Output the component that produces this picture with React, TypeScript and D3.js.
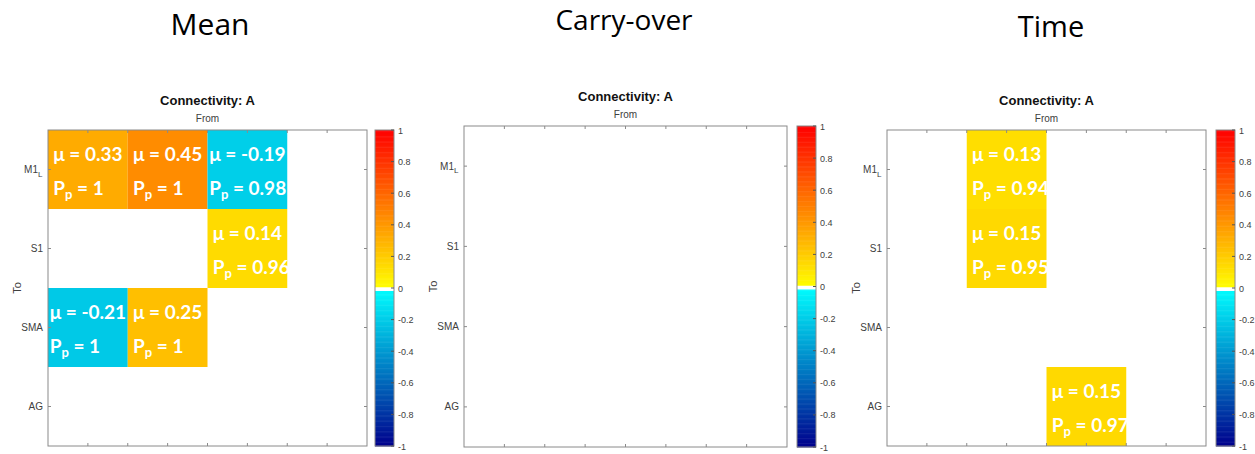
import React, { useEffect, useRef } from "react";
import * as d3 from "d3";

const regions = ["M1", "S1", "SMA", "AG"];
const regionSubs = ["L", "", "", ""];
const panelTitles = ["Mean", "Carry-over", "Time"];
const axisTitle = "Connectivity: A";
const colorbarTicks = [1, 0.8, 0.6, 0.4, 0.2, 0, -0.2, -0.4, -0.6, -0.8, -1];

// cells: [toRow, fromCol, mu, Pp]
const meanCells: [number, number, number, number][] = [
  [0, 0, 0.33, 1],
  [0, 1, 0.45, 1],
  [0, 2, -0.19, 0.98],
  [1, 2, 0.14, 0.96],
  [2, 0, -0.21, 1],
  [2, 1, 0.25, 1],
];
const carryCells: [number, number, number, number][] = [];
const timeCells: [number, number, number, number][] = [
  [0, 1, 0.13, 0.94],
  [1, 1, 0.15, 0.95],
  [3, 2, 0.15, 0.97],
];

const panelCells = [meanCells, carryCells, timeCells];

const layout = [
  { tx: 210, ty: 35, fs: 30, left: 48, top: 130, w: 319, h: 316, cbx: 375 },
  { tx: 624, ty: 30, fs: 28, left: 464, top: 126, w: 323, h: 321, cbx: 797 },
  { tx: 1051, ty: 37, fs: 29, left: 887, top: 130, w: 319, h: 316, cbx: 1216 },
];

function cmap(v: number): string {
  if (v >= -0.017 && v <= 0.008) return "#ffffff";
  if (v > 0) {
    const t = Math.min(1, v);
    return d3.rgb(255, 255 * (1 - t), 0).formatHex();
  }
  const t = Math.min(1, -v);
  return d3.rgb(0, 255 * (1 - t), 255 - 115 * t).formatHex();
}

export default function App() {
  const ref = useRef<SVGSVGElement | null>(null);
  useEffect(() => {
    const svg = d3.select(ref.current);
    svg.selectAll("*").remove();
    const axisColor = "#404040";
    const sans = "'Liberation Sans', Arial, sans-serif";
    const cellFont = "Lato, 'Open Sans', sans-serif";

    layout.forEach((L, pi) => {
      const g = svg.append("g");
      // big title
      g.append("text")
        .attr("x", L.tx)
        .attr("y", L.ty)
        .attr("text-anchor", "middle")
        .attr("font-family", "'Open Sans', sans-serif")
        .attr("font-size", L.fs)
        .attr("fill", "#000")
        .text(panelTitles[pi]);

      const x = d3.scaleLinear().domain([0, 4]).range([L.left, L.left + L.w]);
      const y = d3.scaleLinear().domain([0, 4]).range([L.top, L.top + L.h]);
      const cx = (L.left + L.left + L.w) / 2;

      g.append("text")
        .attr("x", cx)
        .attr("y", L.top - 25)
        .attr("text-anchor", "middle")
        .attr("font-family", sans)
        .attr("font-weight", "bold")
        .attr("font-size", 13)
        .attr("fill", "#111")
        .text(axisTitle);
      g.append("text")
        .attr("x", cx)
        .attr("y", L.top - 8)
        .attr("text-anchor", "middle")
        .attr("font-family", sans)
        .attr("font-size", 10)
        .attr("fill", axisColor)
        .text("From");
      g.append("text")
        .attr("transform", `translate(${L.left - 27},${L.top + L.h / 2}) rotate(-90)`)
        .attr("text-anchor", "middle")
        .attr("font-family", sans)
        .attr("font-size", 11)
        .attr("fill", axisColor)
        .text("To");

      // cells
      const cells = panelCells[pi];
      g.selectAll("rect.cell")
        .data(cells)
        .enter()
        .append("rect")
        .attr("x", (d) => x(d[1]))
        .attr("y", (d) => y(d[0]))
        .attr("width", (d) => x(d[1] + 1) - x(d[1]))
        .attr("height", (d) => y(d[0] + 1) - y(d[0]))
        .attr("fill", (d) => cmap(d[2]));

      cells.forEach((d) => {
        const cxc = (x(d[1]) + x(d[1] + 1)) / 2;
        const top = y(d[0]);
        const mu = g
          .append("text")
          .attr("x", cxc)
          .attr("y", top + 31)
          .attr("text-anchor", "middle")
          .attr("font-family", cellFont)
          .attr("font-weight", "bold")
          .attr("font-size", 19)
          .attr("fill", "#fff")
          .text(`μ = ${d[2]}`);
        const wNode = mu.node() as SVGTextElement;
        const wid = wNode ? wNode.getComputedTextLength() : 66;
        const lx = cxc - wid / 2;
        const pp = g
          .append("text")
          .attr("x", lx)
          .attr("y", top + 65)
          .attr("font-family", cellFont)
          .attr("font-weight", "bold")
          .attr("font-size", 19)
          .attr("fill", "#fff");
        pp.append("tspan").text("P");
        pp.append("tspan").attr("font-size", 13).attr("dy", 4).text("p");
        pp.append("tspan").attr("dy", -4).text(` = ${d[3]}`);
      });

      // axes box
      g.append("rect")
        .attr("x", L.left)
        .attr("y", L.top)
        .attr("width", L.w)
        .attr("height", L.h)
        .attr("fill", "none")
        .attr("stroke", "#8a8a8a")
        .attr("stroke-width", 1);

      // x ticks at half steps
      const xt = d3.range(1, 8).map((i) => i * 0.5);
      xt.forEach((t) => {
        g.append("line")
          .attr("x1", x(t)).attr("x2", x(t))
          .attr("y1", L.top).attr("y2", L.top + 3)
          .attr("stroke", "#8a8a8a");
        g.append("line")
          .attr("x1", x(t)).attr("x2", x(t))
          .attr("y1", L.top + L.h).attr("y2", L.top + L.h - 3)
          .attr("stroke", "#8a8a8a");
      });
      regions.forEach((r, i) => {
        const yy = y(i + 0.5);
        g.append("line")
          .attr("x1", L.left).attr("x2", L.left + 3)
          .attr("y1", yy).attr("y2", yy)
          .attr("stroke", "#8a8a8a");
        g.append("line")
          .attr("x1", L.left + L.w).attr("x2", L.left + L.w - 3)
          .attr("y1", yy).attr("y2", yy)
          .attr("stroke", "#8a8a8a");
        g.append("text")
          .attr("x", L.left - 5 - (regionSubs[i] ? 5 : 0))
          .attr("y", yy + 3.5)
          .attr("text-anchor", "end")
          .attr("font-family", sans)
          .attr("font-size", 10)
          .attr("fill", axisColor)
          .text(r);
        if (regionSubs[i]) {
          g.append("text")
            .attr("x", L.left - 10)
            .attr("y", yy + 7)
            .attr("font-family", sans)
            .attr("font-size", 8)
            .attr("fill", axisColor)
            .text(regionSubs[i]);
        }
      });

      // colorbar
      const cbw = 19;
      const cy = d3.scaleLinear().domain([-1, 1]).range([L.top + L.h, L.top]);
      const n = 256;
      const levels = d3.range(n).map((i) => -1 + (2 * (i + 0.5)) / n);
      g.selectAll("rect.cb")
        .data(levels)
        .enter()
        .append("rect")
        .attr("x", L.cbx)
        .attr("width", cbw)
        .attr("y", (v) => cy(v + 1 / n))
        .attr("height", (v) => cy(v - 1 / n) - cy(v + 1 / n) + 0.5)
        .attr("fill", (v) => cmap(v));
      g.append("rect")
        .attr("x", L.cbx)
        .attr("y", L.top)
        .attr("width", cbw)
        .attr("height", L.h)
        .attr("fill", "none")
        .attr("stroke", "#8a8a8a");
      colorbarTicks.forEach((t) => {
        g.append("line")
          .attr("x1", L.cbx + cbw).attr("x2", L.cbx + cbw - 3)
          .attr("y1", cy(t)).attr("y2", cy(t))
          .attr("stroke", "#555");
        g.append("text")
          .attr("x", L.cbx + cbw + 4)
          .attr("y", cy(t) + 3.5)
          .attr("font-family", sans)
          .attr("font-size", 9)
          .attr("fill", axisColor)
          .text(String(t));
      });
    });
  }, []);

  return (
    <svg
      ref={ref}
      width={1255}
      height={454}
      style={{ position: "absolute", left: 0, top: 0, background: "#fff" }}
    />
  );
}
